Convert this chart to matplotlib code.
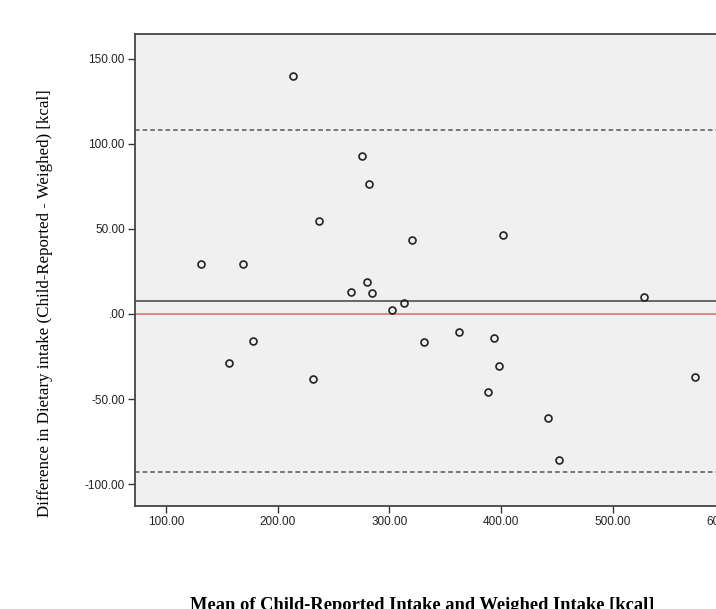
import matplotlib
matplotlib.use('Agg')
import matplotlib.pyplot as plt

# Bland-Altman data: mean of the two methods vs difference (kcal)
mean_intake = [214.0, 275.5, 281.4, 237.3, 320.2, 401.4, 131.3, 168.7,
               279.7, 265.3, 284.1, 313.1, 302.6, 527.9, 178.2, 331.2,
               362.0, 393.6, 398.1, 388.6, 156.1, 231.9, 573.3, 442.0,
               451.8]
diff_intake = [139.8, 92.8, 76.3, 54.5, 43.7, 46.5, 29.6, 29.6,
               19.0, 13.1, 12.4, 6.5, 2.35, 9.8, -15.7, -16.3,
               -10.4, -14.3, -30.6, -45.9, -28.6, -38.1, -37.3, -61.2,
               -86.1]

mean_diff = 7.6
upper_loa = 108.2
lower_loa = -93.1

x_ticks = [100, 200, 300, 400, 500, 600]
y_ticks = [-100, -50, 0, 50, 100, 150]


def fmt(v):
    # SPSS style: 0 is written ".00"
    s = f"{v:.2f}"
    return ".00" if v == 0 else s


fig = plt.figure(figsize=(7.16, 6.09), dpi=100)
ax = fig.add_axes([0.188, 0.169, 0.855, 0.775])
ax.set_facecolor('#f0f0f0')

ax.axhline(upper_loa, color='#555555', lw=1.1, ls=(0, (3, 2)))
ax.axhline(lower_loa, color='#555555', lw=1.1, ls=(0, (3, 2)))
ax.axhline(mean_diff, color='#505050', lw=1.2)
ax.axhline(0, color='#e57373', lw=1.2)

ax.plot(mean_intake, diff_intake, 'o', ms=5, mfc='none', mec='#222222', mew=1.2)

ax.set_xlim(71.8, 620)
ax.set_ylim(-112.9, 164.5)
ax.set_xticks(x_ticks)
ax.set_yticks(y_ticks)
ax.set_xticklabels([fmt(v) for v in x_ticks])
ax.set_yticklabels([fmt(v) for v in y_ticks])
ax.tick_params(direction='out', length=5, width=1, color='#333333',
               labelsize=8.5, labelcolor='#222222', pad=2)
for lab in ax.get_xticklabels() + ax.get_yticklabels():
    lab.set_family('Liberation Sans')

for side in ['left', 'bottom', 'top', 'right']:
    ax.spines[side].set_color('#444444')
    ax.spines[side].set_linewidth(1.3)

fig.text(422 / 716, 1 - 597 / 609,
         'Mean of Child-Reported Intake and Weighed Intake [kcal]',
         ha='center', va='top', family='Liberation Serif', weight='bold',
         fontsize=13.3)
fig.text(45 / 716, 1 - 303 / 609,
         'Difference in Dietary intake (Child-Reported - Weighed) [kcal]',
         ha='center', va='center', rotation=90, family='Liberation Serif',
         fontsize=12.2)

fig.savefig('out.png', dpi=100)
